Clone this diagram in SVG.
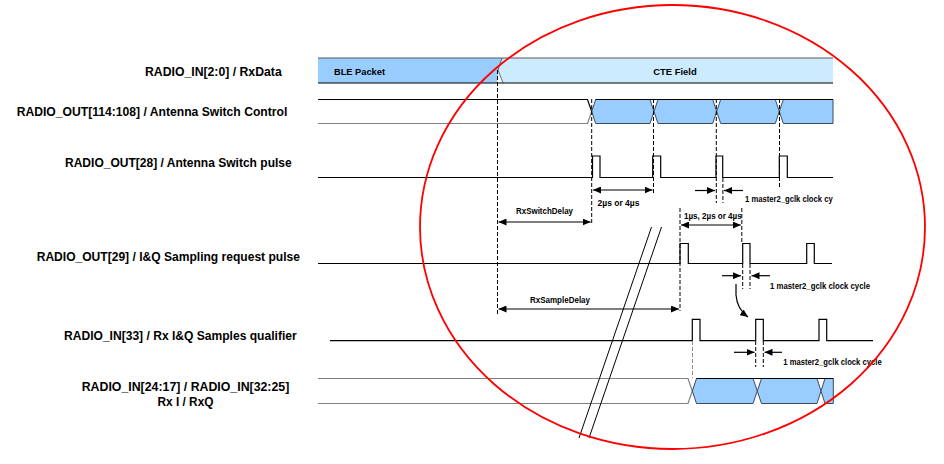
<svg xmlns="http://www.w3.org/2000/svg" width="944" height="464" viewBox="0 0 944 464">
<style>
.lbl{font-family:"Liberation Sans",Arial,sans-serif;font-weight:bold;font-size:12.5px;fill:#000}
.sm{font-family:"Liberation Sans",Arial,sans-serif;font-weight:bold;font-size:9px;fill:#000}
.sig{stroke:#000;stroke-width:1.2;fill:none}
.gry{stroke:#808080;stroke-width:1.2;fill:none}
.hex{fill:#99CCFF;stroke:#3F4B57;stroke-width:1}
.dash{stroke:#000;stroke-width:1;stroke-dasharray:4 2;fill:none}
.dashg{stroke:#909090;stroke-width:1;stroke-dasharray:4 2;fill:none}
.arr{stroke:#000;stroke-width:1.2;fill:none;marker-end:url(#ah)}
.darr{stroke:#000;stroke-width:1.2;fill:none;marker-start:url(#ah);marker-end:url(#ah)}
.brk{stroke:#000;stroke-width:1;fill:none}
</style>
<defs>
<marker id="ah" markerUnits="userSpaceOnUse" markerWidth="8" markerHeight="7" refX="8" refY="3.5" orient="auto-start-reverse">
<path d="M0,0 L8,3.5 L0,7 z" fill="#000"/>
</marker>
</defs>
<rect width="944" height="464" fill="#fff"/>

<g id="rxdata">
<text class="lbl" x="281.7" y="75.5" text-anchor="end" textLength="136.7" lengthAdjust="spacingAndGlyphs">RADIO_IN[2:0] / RxData</text>
<polygon points="318,58 502,58 498,70 497,83 318,83" fill="#99CCFF"/>
<polygon points="502,58 833,58 833,83 503,83 498,70" fill="#CCEBFF"/>
<polyline points="502,58 498,70 503,83" fill="none" stroke="#3F4B57" stroke-width="0.8"/>
<line x1="318" y1="58" x2="833" y2="58" stroke="#595959" stroke-width="1.2"/>
<line x1="318" y1="83" x2="833" y2="83" stroke="#000" stroke-width="1.2"/>
<text class="sm" x="334" y="74.5" textLength="51" lengthAdjust="spacingAndGlyphs">BLE Packet</text>
<text class="sm" x="675" y="74.5" text-anchor="middle" textLength="43.4" lengthAdjust="spacingAndGlyphs">CTE Field</text>
</g>

<g id="antenna-switch-control">
<text class="lbl" x="287.3" y="115.5" text-anchor="end" textLength="270.6" lengthAdjust="spacingAndGlyphs">RADIO_OUT[114:108] / Antenna Switch Control</text>
<polyline class="sig" points="318,99.5 587.5,99.5 591.7,111.5"/>
<polyline class="gry" points="318,123.5 587.5,123.5 591.7,111.5"/>
<polygon class="hex" points="591.7,111.5 595.7,99.5 650,99.5 654,111.5 650,123.5 595.7,123.5"/>
<polygon class="hex" points="654,111.5 658,99.5 712.7,99.5 716.7,111.5 712.7,123.5 658,123.5"/>
<polygon class="hex" points="716.7,111.5 720.7,99.5 775.3,99.5 779.3,111.5 775.3,123.5 720.7,123.5"/>
<polygon class="hex" points="779.3,111.5 783.3,99.5 833,99.5 833,123.5 783.3,123.5"/>
<line x1="595.7" y1="99.5" x2="833" y2="99.5" stroke="#000" stroke-width="1.2"/>
</g>

<g id="antenna-switch-pulse">
<text class="lbl" x="291.7" y="167" text-anchor="end" textLength="226.7" lengthAdjust="spacingAndGlyphs">RADIO_OUT[28] / Antenna Switch pulse</text>
<path class="sig" d="M318,177.5 H592.5 V156 H600 V177.5 H652.7 V156 H660.7 V177.5 H716 V156 H722.7 V177.5 H779.3 V156 H787.3 V177.5 H833"/>
</g>

<g id="iq-sampling-request">
<text class="lbl" x="300" y="261" text-anchor="end" textLength="263.3" lengthAdjust="spacingAndGlyphs">RADIO_OUT[29] / I&amp;Q Sampling request pulse</text>
<path class="sig" d="M318,263.5 H680 V243.5 H688.3 V263.5 H742.7 V243.5 H750 V263.5 H806.7 V243.5 H814.3 V263.5 H832"/>
</g>

<g id="iq-samples-qualifier">
<text class="lbl" x="296.7" y="339.5" text-anchor="end" textLength="232.7" lengthAdjust="spacingAndGlyphs">RADIO_IN[33] / Rx I&amp;Q Samples qualifier</text>
<path class="sig" d="M330,340.7 H692.3 V319.3 H700 V340.7 H755.7 V319.3 H763.3 V340.7 H819 V319.3 H826.7 V340.7 H873"/>
</g>

<g id="rx-iq-data">
<text class="lbl" x="185.5" y="390.5" text-anchor="middle" textLength="207.6" lengthAdjust="spacingAndGlyphs">RADIO_IN[24:17] / RADIO_IN[32:25]</text>
<text class="lbl" x="185.5" y="406" text-anchor="middle" textLength="56" lengthAdjust="spacingAndGlyphs">Rx I / RxQ</text>
<polyline class="gry" points="318,378.5 688,378.5 692.3,391 688,403.5 318,403.5"/>
<polygon class="hex" points="692.3,391 696.5,378.5 753,378.5 757.3,391 753,403.5 696.5,403.5"/>
<polygon class="hex" points="757.3,391 761.5,378.5 817,378.5 821,391 817,403.5 761.5,403.5"/>
<polygon class="hex" points="821,391 825,378.5 833.3,378.5 833.3,403.5 825,403.5"/>
<line x1="696.5" y1="378.5" x2="833.3" y2="378.5" stroke="#000" stroke-width="1.2"/>
</g>

<g id="connectors">
<line class="dash" x1="497.5" y1="70" x2="497.5" y2="314"/>
<line class="dash" x1="591.7" y1="99" x2="591.7" y2="224"/>
<line class="dash" x1="653.5" y1="99" x2="653.5" y2="195"/>
<line class="dash" x1="716.3" y1="99" x2="716.3" y2="203"/>
<line class="dash" x1="722.9" y1="178" x2="722.9" y2="203"/>
<line class="dash" x1="779.5" y1="99" x2="779.5" y2="188"/>
<line class="dash" x1="680" y1="208" x2="680" y2="311"/>
<line class="dash" x1="741.8" y1="208" x2="741.8" y2="244"/>
<line class="dash" x1="742.7" y1="264" x2="742.7" y2="289"/>
<line class="dash" x1="750" y1="264" x2="750" y2="289"/>
<line class="dash" x1="755.7" y1="341" x2="755.7" y2="367"/>
<line class="dash" x1="763.3" y1="341" x2="763.3" y2="367"/>
<line class="dashg" x1="692.5" y1="341" x2="692.5" y2="378"/>

<line class="darr" x1="593" y1="190" x2="652.5" y2="190"/>
<text class="sm" x="597.5" y="205.5" textLength="42" lengthAdjust="spacingAndGlyphs">2µs or 4µs</text>
<line class="arr" x1="695" y1="190.5" x2="715" y2="190.5"/>
<line class="arr" x1="743" y1="190.5" x2="724" y2="190.5"/>
<text class="sm" x="745" y="202" textLength="87.7" lengthAdjust="spacingAndGlyphs">1 master2_gclk clock cy</text>

<text class="sm" x="516" y="214" textLength="57" lengthAdjust="spacingAndGlyphs">RxSwitchDelay</text>
<line class="darr" x1="498.5" y1="222" x2="590.7" y2="222"/>

<text class="sm" x="684" y="218.5" textLength="57.7" lengthAdjust="spacingAndGlyphs">1µs, 2µs or 4µs</text>
<line class="darr" x1="681" y1="225" x2="740.8" y2="225"/>

<line class="arr" x1="722" y1="275.7" x2="741" y2="275.7"/>
<line class="arr" x1="770" y1="275.7" x2="751.5" y2="275.7"/>
<text class="sm" x="770" y="289" textLength="100" lengthAdjust="spacingAndGlyphs">1 master2_gclk clock cycle</text>
<path class="arr" d="M736,284 L736,295 Q737,309 748,317"/>

<text class="sm" x="530" y="303" textLength="60" lengthAdjust="spacingAndGlyphs">RxSampleDelay</text>
<line class="darr" x1="498.5" y1="309" x2="679" y2="309"/>

<line class="arr" x1="734" y1="352.3" x2="754.5" y2="352.3"/>
<line class="arr" x1="782" y1="352.3" x2="764.5" y2="352.3"/>
<text class="sm" x="783.3" y="364.7" textLength="98.4" lengthAdjust="spacingAndGlyphs">1 master2_gclk clock cycle</text>

<line class="brk" x1="651.5" y1="227" x2="579" y2="438"/>
<line class="brk" x1="661.5" y1="227" x2="589" y2="438"/>
</g>

<ellipse id="highlight" cx="672.5" cy="227" rx="252.5" ry="222" fill="none" stroke="#FF0000" stroke-width="1.8"/>
</svg>
